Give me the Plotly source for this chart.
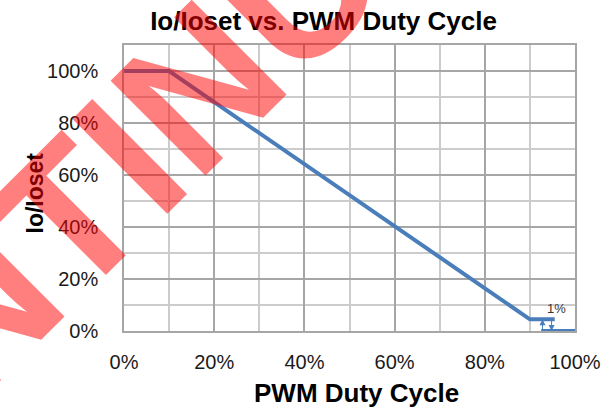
import plotly.graph_objects as go

# Data
duty_main = [0.0, 0.10, 0.90, 0.955]
iout_main = [1.0, 1.0, 0.045, 0.045]
duty_off = [0.925, 1.0]
iout_off = [0.0, 0.0]
arrow_x = [0.928, 0.948]          # hysteresis arrows (up, down)
arrow_from = [0.0, 0.045]
arrow_to = [0.045, 0.0]
x_ticks = [0, 0.2, 0.4, 0.6, 0.8, 1.0]
y_ticks = [0, 0.2, 0.4, 0.6, 0.8, 1.0]

BLUE = "#4A7EBB"
FONT = "Liberation Sans, Arial, sans-serif"

L, R, T, B = 124, 36, 45, 79
W, H = 611, 410
pw, ph = W - L - R, H - T - B


def px(xpix):
    return (xpix - L) / pw


def py(ypix):
    return (H - B - ypix) / ph


fig = go.Figure()
fig.add_trace(go.Scatter(x=duty_main, y=iout_main, mode="lines",
                         line=dict(color=BLUE, width=4), cliponaxis=False,
                         showlegend=False, hoverinfo="skip"))
fig.add_trace(go.Scatter(x=duty_off, y=iout_off, mode="lines",
                         line=dict(color=BLUE, width=4), cliponaxis=False,
                         showlegend=False, hoverinfo="skip"))

ann = []
for xa, y0, y1 in zip(arrow_x, arrow_from, arrow_to):
    ann.append(dict(x=xa, y=y1, ax=xa, ay=y0, xref="x", yref="y", axref="x", ayref="y",
                    showarrow=True, arrowhead=2, arrowsize=1.2, arrowwidth=1,
                    arrowcolor=BLUE, text=""))
ann.append(dict(x=0.96, y=0.088, xref="x", yref="y", text="1%", showarrow=False,
                xanchor="center", yanchor="middle",
                font=dict(family=FONT, size=13, color="#333333")))
# axis titles
ann.append(dict(x=px(356), y=py(393), xref="paper", yref="paper",
                text="<b>PWM Duty Cycle</b>", xanchor="center", yanchor="middle",
                showarrow=False, font=dict(family=FONT, size=26, color="#000000")))
ann.append(dict(x=px(35), y=py(193.5), xref="paper", yref="paper",
                text="<b>Io/Ioset</b>", textangle=-90, showarrow=False,
                xanchor="center", yanchor="middle",
                font=dict(family=FONT, size=23, color="#000000")))
# watermark
ann.append(dict(x=px(13.75), y=py(270.75), xref="paper", yref="paper",
                text="<b>DISCONTINUED</b>", textangle=-45, showarrow=False,
                xanchor="center", yanchor="middle",
                font=dict(family=FONT, size=195, color="rgba(255,0,0,0.5)")))

fig.update_layout(
    width=W, height=H,
    margin=dict(l=L, r=R, t=T, b=B, autoexpand=False),
    paper_bgcolor="white", plot_bgcolor="white",
    title=dict(text="<b>Io/Ioset vs. PWM Duty Cycle</b>", x=323.5 / W, xref="container",
               xanchor="center", y=1 - 21 / H, yref="container", yanchor="middle",
               font=dict(family=FONT, size=26, color="#000000")),
    annotations=ann,
    font=dict(family=FONT, color="#1a1a1a"),
)
fig.update_xaxes(range=[0, 1], tickvals=x_ticks, tickformat=".0%", automargin=False,
                 showgrid=True, gridcolor="#a6a6a6", gridwidth=1.5,
                 minor=dict(tickvals=[0.1, 0.3, 0.5, 0.7, 0.9], showgrid=True,
                            gridcolor="#cccccc", gridwidth=1.5),
                 showline=True, linecolor="#a6a6a6", linewidth=1.5, mirror=True,
                 zeroline=False, ticks="", ticklabelstandoff=12,
                 tickfont=dict(family=FONT, size=20, color="#1a1a1a"))
fig.update_yaxes(range=[0, 1.1], tickvals=y_ticks, tickformat=".0%", automargin=False,
                 showgrid=True, gridcolor="#a6a6a6", gridwidth=1.5,
                 minor=dict(tickvals=[0.1, 0.3, 0.5, 0.7, 0.9], showgrid=True,
                            gridcolor="#cccccc", gridwidth=1.5),
                 showline=True, linecolor="#a6a6a6", linewidth=1.5, mirror=True,
                 zeroline=False, ticks="", ticklabelstandoff=20,
                 tickfont=dict(family=FONT, size=20, color="#1a1a1a"))

fig.write_html("out.html", config={"displayModeBar": False},
               post_script="document.body.style.margin='0';")
